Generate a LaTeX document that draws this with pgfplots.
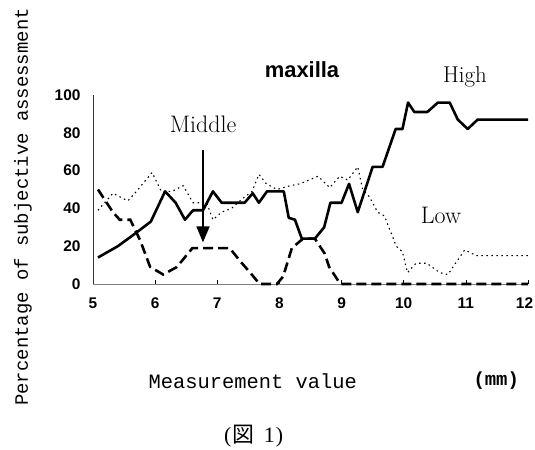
\documentclass[border=0pt]{standalone}
\usepackage{pgfplots}
\pgfplotsset{compat=1.18}
\usepackage{fontspec}
\usetikzlibrary{arrows.meta}
\newfontfamily\arialf{Liberation Sans}
\newfontfamily\monof{Liberation Mono}
\newfontfamily\cjk{Noto Sans CJK JP}
\newfontfamily\serf{Liberation Serif}
\begin{document}
\begin{tikzpicture}[x=1bp,y=1bp]
\path[use as bounding box] (0,0) rectangle (535,450);
\begin{axis}[
  at={(93bp,166bp)}, anchor=south west,
  scale only axis, width=435bp, height=189bp,
  xmin=5, xmax=12, ymin=0, ymax=100,
  axis x line*=bottom, axis y line*=left,
  x axis line style={-, gray, line width=0.8pt},
  y axis line style={-, black!80, line width=0.8pt},
  xtick={5,...,12}, ytick={0,20,...,100},
  xticklabels={5,6,7,8,9,10,11,{12\hspace*{7pt}}},
  tick align=inside, major tick length=4bp,
  x tick style={black, line width=0.5pt},
  y tick style={draw=none},
  /pgf/number format/assume math mode=true,
  ticklabel style={font=\arialf\bfseries\fontsize{15.5}{17}\selectfont},
  yticklabel style={xshift=-9bp},
  xticklabel style={yshift=-10bp},
  clip=false,
]
% High
\addplot[black, line width=2.6pt, line join=round] coordinates {
(5.08,14) (5.4,20) (5.65,26) (5.93,33) (6.16,49) (6.33,43) (6.48,34) (6.61,39)
(6.77,39) (6.93,49) (7.07,43) (7.44,43) (7.57,48) (7.67,43) (7.8,49) (8.07,49)
(8.15,35) (8.25,34) (8.36,24) (8.57,24) (8.72,30) (8.82,43) (9.0,43) (9.12,53)
(9.26,38) (9.5,62) (9.66,62) (9.87,82) (9.98,82) (10.07,96) (10.17,91) (10.38,91)
(10.55,96) (10.74,96) (10.87,87) (11.03,82) (11.19,87) (12.0,87)
};
% Middle
\addplot[black, line width=2.6pt, dash pattern=on 10bp off 5bp] coordinates {
(5.08,50) (5.32,38) (5.43,34) (5.6,34) (5.76,23) (5.92,9) (6.13,5) (6.35,9)
(6.6,19) (7.2,19) (7.37,12) (7.53,6) (7.68,0) (7.96,0) (8.06,4) (8.2,19)
(8.38,24) (8.57,24) (8.73,16) (8.8,9) (8.98,0) (12,0)
};
% Low
\addplot[black, line width=1.1pt, dash pattern=on 1.5bp off 3.5bp] coordinates {
(5.08,39) (5.32,48) (5.56,44) (5.7,49) (5.95,59) (6.1,49) (6.27,49) (6.45,52)
(6.61,43) (6.83,43) (6.93,34) (7.07,38) (7.23,40) (7.4,45) (7.56,49) (7.67,58)
(7.79,53) (7.96,50) (8.17,52) (8.33,53) (8.62,57) (8.81,51) (8.97,57) (9.1,55)
(9.26,62) (9.34,50) (9.45,46) (9.58,38) (9.69,36) (9.88,20) (9.98,17) (10.06,6)
(10.2,11) (10.37,11) (10.58,6) (10.71,5) (10.98,18) (11.17,15) (12.0,15)
};
\draw[black, line width=1.6pt, -{Triangle[width=13bp,length=16bp]}] (axis cs:6.77,71) -- (axis cs:6.77,22);
\end{axis}
\node[font=\arialf\bfseries\fontsize{22}{26}\selectfont] at (302,380) {maxilla};
\node[font=\fontsize{23}{27}\selectfont] at (465,373) {High};
\node[font=\fontsize{24}{28}\selectfont] at (203,326) {Middle};
\node[font=\fontsize{24}{28}\selectfont] at (441,235) {Low};
\node[font=\monof\fontsize{19}{22}\selectfont, rotate=90] at (23,243) {Percentage of subjective assessment};
\node[font=\monof\fontsize{20.5}{24}\selectfont, anchor=west] at (145,69) {Measurement value};
\node[font=\monof\bfseries\fontsize{19}{22}\selectfont, anchor=west] at (470,69) {(mm)};
\node[font=\serf\fontsize{22}{25}\selectfont, anchor=base west, inner sep=0pt] at (224,7) {(\hspace{1.5pt}{\cjk 図}\hspace{9pt}1\hspace{1pt})};
\end{tikzpicture}
\end{document}
